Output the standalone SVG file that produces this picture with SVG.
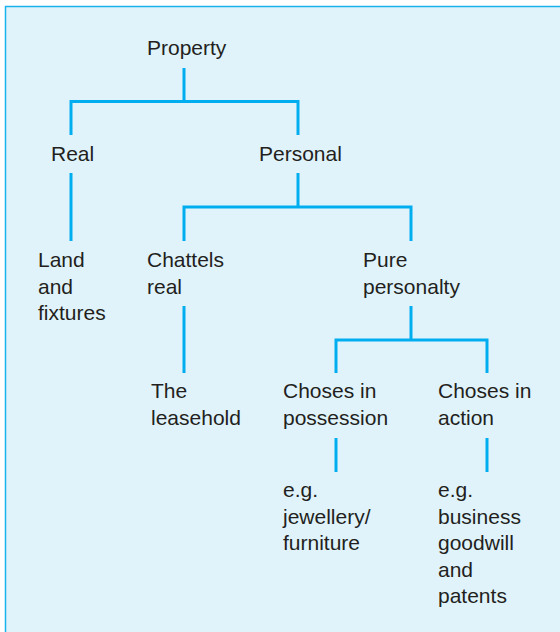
<svg xmlns="http://www.w3.org/2000/svg" width="560" height="632" viewBox="0 0 560 632">
<style>
.t{font-family:"Liberation Sans",Arial,sans-serif;font-size:21px;fill:#231f20}
.c{stroke:#00aeef;stroke-width:3;fill:none;stroke-linecap:butt;stroke-linejoin:miter}
</style>
<rect x="0" y="0" width="560" height="632" fill="#ffffff"/>
<rect x="5.5" y="6.5" width="600" height="700" fill="#e0f3fb" stroke="#1ab2ea" stroke-width="1.5"/>
<g id="connectors" class="c">
<path d="M184 68V101.5M71 135V101.5H298V135"/>
<path d="M71 173V241"/>
<path d="M298 173V207M184 241V207H411V241"/>
<path d="M184 306V373"/>
<path d="M411 306V340M336 373V340H487V373"/>
<path d="M336 438V472M487 438V472"/>
</g>
<g id="property"><text class="t" x="147" y="55">Property</text></g>
<g id="real"><text class="t" x="51" y="161">Real</text></g>
<g id="personal"><text class="t" x="259" y="161">Personal</text></g>
<g id="land"><text class="t" x="38" y="267">Land</text><text class="t" x="38" y="293.5">and</text><text class="t" x="38" y="320">fixtures</text></g>
<g id="chattels"><text class="t" x="147" y="267">Chattels</text><text class="t" x="147" y="293.5">real</text></g>
<g id="pure"><text class="t" x="363" y="267">Pure</text><text class="t" x="363" y="293.5">personalty</text></g>
<g id="leasehold"><text class="t" x="151" y="398">The</text><text class="t" x="151" y="425">leasehold</text></g>
<g id="possession"><text class="t" x="283" y="398">Choses in</text><text class="t" x="283" y="425">possession</text></g>
<g id="action"><text class="t" x="438" y="398">Choses in</text><text class="t" x="438" y="425">action</text></g>
<g id="eg1"><text class="t" x="283" y="497">e.g.</text><text class="t" x="283" y="523.5">jewellery/</text><text class="t" x="283" y="550">furniture</text></g>
<g id="eg2"><text class="t" x="438" y="497">e.g.</text><text class="t" x="438" y="523.5">business</text><text class="t" x="438" y="550">goodwill</text><text class="t" x="438" y="576.5">and</text><text class="t" x="438" y="603">patents</text></g>
</svg>
